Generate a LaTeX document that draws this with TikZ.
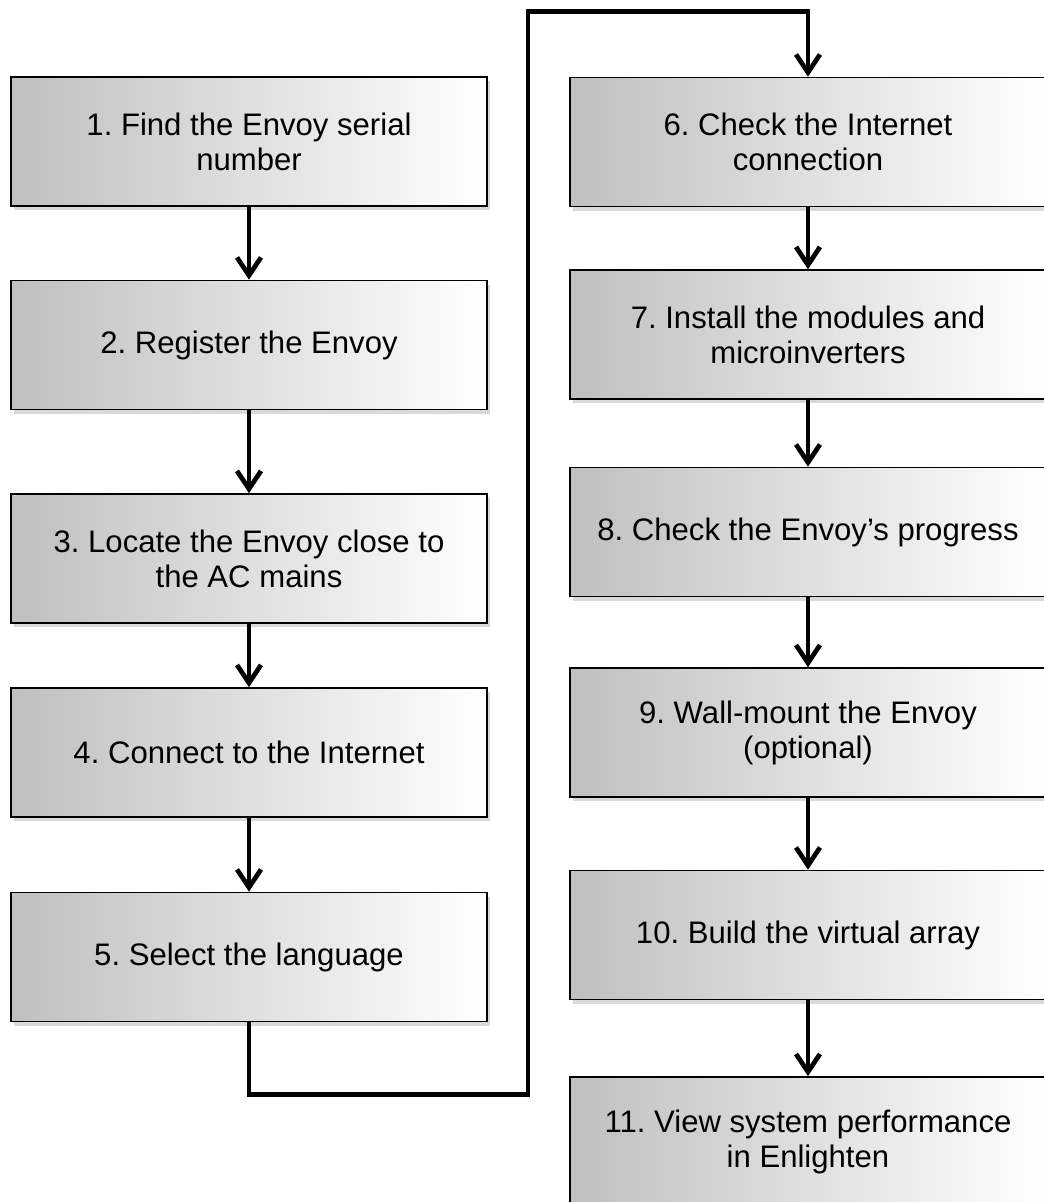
\documentclass[tikz,border=0pt]{standalone}
\usepackage{fontspec}
\setmainfont{Liberation Sans}
\usetikzlibrary{arrows.meta, calc, shadows}
\tikzset{
    my-step/.style={
        draw, rectangle, line width=0.9pt, minimum width=9.52cm, minimum height=2.58cm,
        left color=gray!50, right color=white, align=center,
        font=\fontsize{17.7}{19.9}\selectfont\frenchspacing,
        drop shadow={shadow xshift=0.06cm, shadow yshift=-0.08cm, opacity=0.3}
    },
    my-arrow/.style={
        line width=2.7pt, -{Straight Barb[length=0.36cm, width=0.48cm]}
    },
}

\begin{document}
\begin{tikzpicture}

        \useasboundingbox (0,0) rectangle (20.88,-24.04);

        % LEFT COLUMN
        \node[my-step] (STEP1) at (4.98,-2.83)              {1. Find the Envoy serial\\number};
        \node[my-step] (STEP2) at ($(STEP1) + (0, -4.07)$)  {2. Register the Envoy};
        \node[my-step] (STEP3) at ($(STEP2) + (0, -4.27)$)  {3. Locate the Envoy close to\\the AC mains};
        \node[my-step] (STEP4) at ($(STEP3) + (0, -3.88)$)  {4. Connect to the Internet};
        \node[my-step] (STEP5) at ($(STEP4) + (0, -4.09)$)  {5. Select the language};

        % RIGHT COLUMN
        \node[my-step] (STEP6)  at (16.16,-2.84)              {6. Check the Internet\\connection};
        \node[my-step] (STEP7)  at ($(STEP6) + (0, -3.85)$)   {7. Install the modules and\\microinverters};
        \node[my-step] (STEP8)  at ($(STEP7) + (0, -3.95)$)   {8. Check the Envoy’s progress};
        \node[my-step] (STEP9)  at ($(STEP8) + (0, -4.01)$)   {9. Wall-mount the Envoy\\(optional)};
        \node[my-step] (STEP10) at ($(STEP9) + (0, -4.05)$)   {10. Build the virtual array};
        \node[my-step] (STEP11) at ($(STEP10) + (0, -4.13)$)  {11. View system performance\\in Enlighten};

        % ARROWS
        \draw[my-arrow] (STEP1) -- (STEP2);
        \draw[my-arrow] (STEP2) -- (STEP3);
        \draw[my-arrow] (STEP3) -- (STEP4);
        \draw[my-arrow] (STEP4) -- (STEP5);
        \draw[my-arrow] (STEP6) -- (STEP7);
        \draw[my-arrow] (STEP7) -- (STEP8);
        \draw[my-arrow] (STEP8) -- (STEP9);
        \draw[my-arrow] (STEP9) -- (STEP10);
        \draw[my-arrow] (STEP10) -- (STEP11);

        % LOOP CONNECTOR POINTS
        \coordinate (LOOPLOW)  at ($(STEP5.south) + (0, -1.44)$);
        \coordinate (LOOPHIGH) at ($(STEP6.north) + (-5.6, 1.30)$);

        % LOOP FROM 5 TO 6
        \draw[my-arrow] (STEP5.south) -- (LOOPLOW) -| (LOOPHIGH) -| (STEP6.north);

\end{tikzpicture}
\end{document}
